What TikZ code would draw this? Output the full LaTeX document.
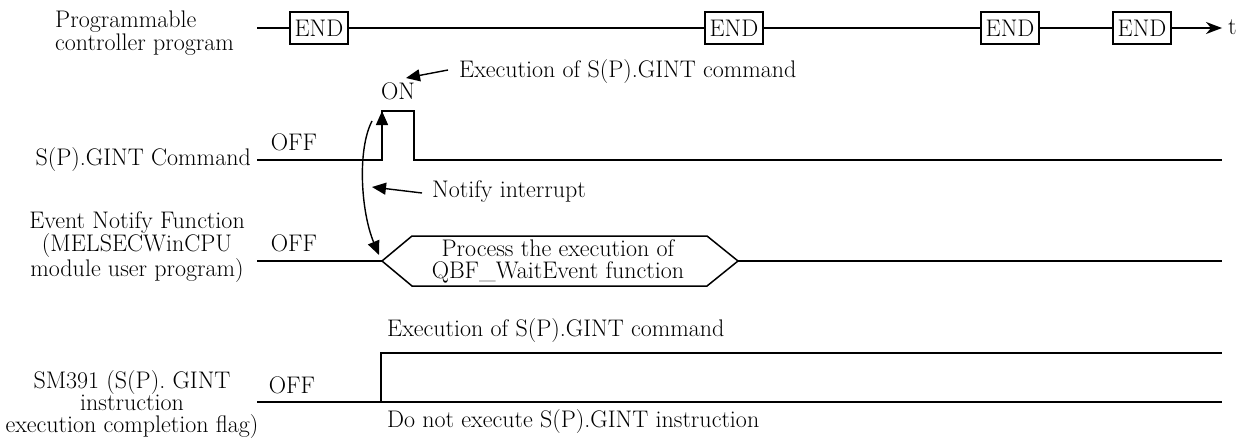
\documentclass[tikz,border=0pt]{standalone}
\usetikzlibrary{arrows.meta}
\begin{document}
\begin{tikzpicture}[x=1pt,y=-1pt,
  every node/.style={font=\fontsize{24}{20}\selectfont, inner sep=0pt},
  wave/.style={line width=1.7pt},
  endbox/.style={draw, line width=1.4pt, minimum width=58pt, minimum height=32pt, inner sep=0pt},
  tri/.style={-{Triangle[length=14pt,width=12pt]}},
  lbl/.style={align=center}]
\useasboundingbox (0,0) rectangle (1244,439);
% top timeline
\coordinate (p0) at (257,28);
\node[endbox] (e1) at (319,28) {END};
\node[endbox] (e2) at (734,28) {END};
\node[endbox] (e3) at (1010,28) {END};
\node[endbox] (e4) at (1142,28) {END};
\coordinate (pt) at (1222,28);
\node[anchor=west] (t) at (1228,27) {t};
\draw[wave] (p0) -- (e1.west) (e1.east) -- (e2.west) (e2.east) -- (e3.west) (e3.east) -- (e4.west);
\draw[wave,-{Stealth[length=16pt,width=12pt,inset=5pt]}] (e4.east) -- (pt);
\node[anchor=west, align=left, font=\fontsize{24}{18}\selectfont] (l1) at (55,33) {Programmable\\controller program};
% S(P).GINT command
\node[anchor=east] (l2) at (251,160) {S(P).GINT Command};
\node (off1) at (294,142) {OFF};
\node (on) at (398,91) {ON};
\coordinate (s0) at (257,160);
\coordinate (s1) at (382,160);
\coordinate (s2) at (382,111);
\coordinate (s3) at (414,111);
\coordinate (s4) at (414,160);
\coordinate (s5) at (1222,160);
\draw[wave] (s0) -- (s1) -- (s2) -- (s3) -- (s4) -- (s5);
\draw[tri, line width=1.4pt] (s1) -- (s2);
\node[anchor=west] (ex1) at (459,72) {Execution of S(P).GINT command};
\coordinate (exa) at (406,78);
\draw[tri, line width=1.4pt] (ex1.west) ++(-11,-2) -- (exa);
% notify interrupt
\coordinate (c0) at (372,121);
\coordinate (c1) at (379,255);
\draw[tri, line width=1.4pt] (c0) .. controls (357,150) and (361,212) .. (c1);
\node[anchor=west] (ni) at (432,192) {Notify interrupt};
\coordinate (nia) at (372,187);
\draw[tri, line width=1.4pt] (ni.west) ++(-10,1) -- (nia);
% event notify function
\node[lbl] (l3) at (137,247) {Event Notify Function\\(MELSECWinCPU\\module user program)};
\node (off2) at (294,243) {OFF};
\coordinate (h0) at (257,261);
\coordinate (h1) at (382,261);
\coordinate (h2) at (412,236);
\coordinate (h3) at (707,236);
\coordinate (h4) at (738,261);
\coordinate (h5) at (707,286);
\coordinate (h6) at (412,286);
\coordinate (h7) at (1222,261);
\draw[wave] (h0) -- (h1);
\draw[line width=1.5pt, line join=miter] (h1) -- (h2) -- (h3) -- (h4) -- (h5) -- (h6) -- cycle;
\draw[wave] (h4) -- (h7);
\node[lbl, font=\fontsize{24}{22}\selectfont] (pr) at (558,261) {Process the execution of\\QBF\_WaitEvent function};
% SM391
\node[lbl, font=\fontsize{24}{22}\selectfont] (l4) at (132,405) {SM391 (S(P). GINT\\instruction\\execution completion flag)};
\node (off3) at (292,385) {OFF};
\coordinate (m0) at (257,402);
\coordinate (m1) at (381,402);
\coordinate (m2) at (381,353);
\coordinate (m3) at (1222,353);
\coordinate (m4) at (1222,402);
\draw[wave] (m0) -- (m1) -- (m2) -- (m3);
\draw[wave] (m1) -- (m4);
\node[anchor=west] (ex2) at (387,331) {Execution of S(P).GINT command};
\node[anchor=west] (dn) at (387,422) {Do not execute S(P).GINT instruction};
\end{tikzpicture}
\end{document}
